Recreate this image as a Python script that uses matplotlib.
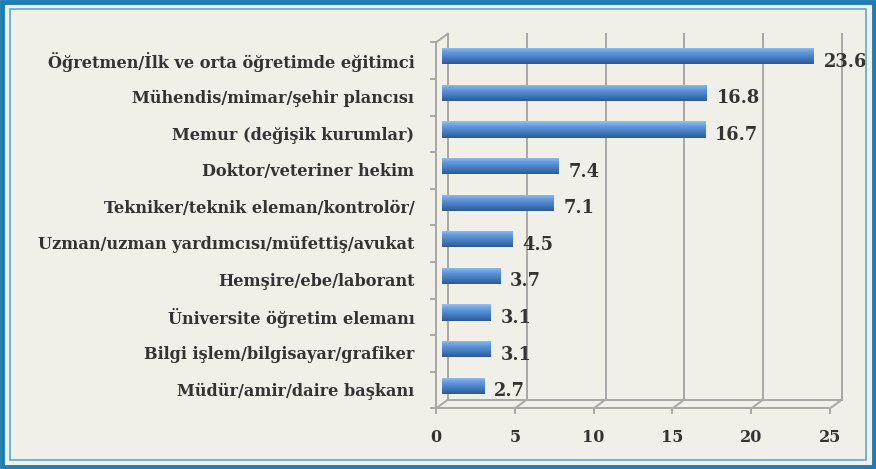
import numpy as np
import matplotlib.pyplot as plt
import matplotlib.transforms as mtransforms
from matplotlib.patches import Rectangle

categories = [
    'Öğretmen/İlk ve orta öğretimde eğitimci',
    'Mühendis/mimar/şehir plancısı',
    'Memur (değişik kurumlar)',
    'Doktor/veteriner hekim',
    'Tekniker/teknik eleman/kontrolör/',
    'Uzman/uzman yardımcısı/müfettiş/avukat',
    'Hemşire/ebe/laborant',
    'Üniversite öğretim elemanı',
    'Bilgi işlem/bilgisayar/grafiker',
    'Müdür/amir/daire başkanı',
]
values = [23.6, 16.8, 16.7, 7.4, 7.1, 4.5, 3.7, 3.1, 3.1, 2.7]
xticks = [0, 5, 10, 15, 20, 25]

plt.rcParams['font.family'] = ['DejaVu Serif']
txt_color = '#333333'
grid_color = '#a8a8a8'
bg = '#f0efe8'

fig = plt.figure(figsize=(8.76, 4.69), dpi=100)
fig.patch.set_facecolor(bg)

# frame
fig.patches.append(Rectangle((0.002, 0.004), 0.996, 0.992, transform=fig.transFigure,
                             fill=False, edgecolor='#1e7db3', linewidth=3.5, zorder=0))
fig.patches.append(Rectangle((0.011, 0.019), 0.978, 0.962, transform=fig.transFigure,
                             fill=False, edgecolor='#5aa7cf', linewidth=1.2, zorder=0))

ax = fig.add_axes([0.5046, 0.1386, 0.4498, 0.7804])
ax.set_facecolor('none')
for s in ax.spines.values():
    s.set_visible(False)

y = np.arange(len(categories))
ax.set_xlim(0, 25)
ax.set_ylim(len(categories) - 0.5, -0.5)

# 3D-like offsets (in points)
dx, dy = 4.3, 3.2
back = ax.transData + mtransforms.ScaledTranslation(dx / 72, dy / 72, fig.dpi_scale_trans)
front = ax.transData + mtransforms.ScaledTranslation(-dx / 72, -dy / 72, fig.dpi_scale_trans)
ybot, ytop = len(categories) - 0.5, -0.5
lk = dict(color=grid_color, lw=1.4, zorder=1, clip_on=False)

# back wall gridlines
for t in xticks:
    ax.plot([t, t], [ybot, ytop], transform=back, **lk)
    p0 = front.transform((t, ybot))
    p1 = back.transform((t, ybot))
    ax.plot([p0[0], p1[0]], [p0[1], p1[1]], transform=mtransforms.IdentityTransform(), **lk)
ax.plot([0, 25], [ybot, ybot], transform=front, **lk)
ax.plot([0, 25], [ybot, ybot], transform=back, **lk)
# left side wall
ax.plot([0, 0], [ybot, ytop], transform=front, **lk)
p0 = front.transform((0, ytop))
p1 = back.transform((0, ytop))
ax.plot([p0[0], p1[0]], [p0[1], p1[1]], transform=mtransforms.IdentityTransform(), **lk)
# front tick marks at category boundaries
for b in np.arange(-0.5, len(categories), 1.0):
    q = front.transform((0, b))
    ax.plot([q[0] - 5, q[0]], [q[1], q[1]], transform=mtransforms.IdentityTransform(), **lk)
for t in xticks:
    q = front.transform((t, ybot))
    ax.plot([q[0], q[0]], [q[1], q[1] - 5], transform=mtransforms.IdentityTransform(), **lk)

# bars with cylinder gradient
bars = ax.barh(y, values, height=0.44, color='#4f86c9', edgecolor='none', zorder=3)
cmap = plt.matplotlib.colors.LinearSegmentedColormap.from_list(
    'cyl', ['#9dbfea', '#6aa0e0', '#5088cf', '#3f72b5', '#2c5994'])
grad = np.linspace(0, 1, 64).reshape(-1, 1)
for b in bars:
    x0, y0 = b.get_x(), b.get_y()
    w, h = b.get_width(), b.get_height()
    im = ax.imshow(grad, extent=[x0, x0 + w, y0 + h, y0], aspect='auto', cmap=cmap,
                   zorder=4, interpolation='bicubic')
    im.set_clip_path(b)
ax.set_xlim(0, 25)
ax.set_ylim(len(categories) - 0.5, -0.5)

# value labels
lab_tr = ax.transData + mtransforms.ScaledTranslation(7 / 72, -4 / 72, fig.dpi_scale_trans)
for yi, v in zip(y, values):
    ax.text(v, yi, f'{v}', transform=lab_tr, ha='left', va='center',
            fontsize=12.8, fontweight='bold', color=txt_color)

# category labels
cat_tr = ax.transData + mtransforms.ScaledTranslation(-20 / 72, -4 / 72, fig.dpi_scale_trans)
for yi, c in zip(y, categories):
    ax.text(0, yi, c, transform=cat_tr, ha='right', va='center',
            fontsize=11.6, fontweight='bold', color=txt_color)

# x tick labels
xt_tr = ax.transData + mtransforms.ScaledTranslation(-dx / 72, -24 / 72, fig.dpi_scale_trans)
for t in xticks:
    ax.text(t, ybot, str(t), transform=xt_tr, ha='center', va='center',
            fontsize=11.5, fontweight='bold', color=txt_color)

ax.set_xticks([])
ax.set_yticks([])

fig.savefig('out.png', dpi=100, facecolor=fig.get_facecolor())
